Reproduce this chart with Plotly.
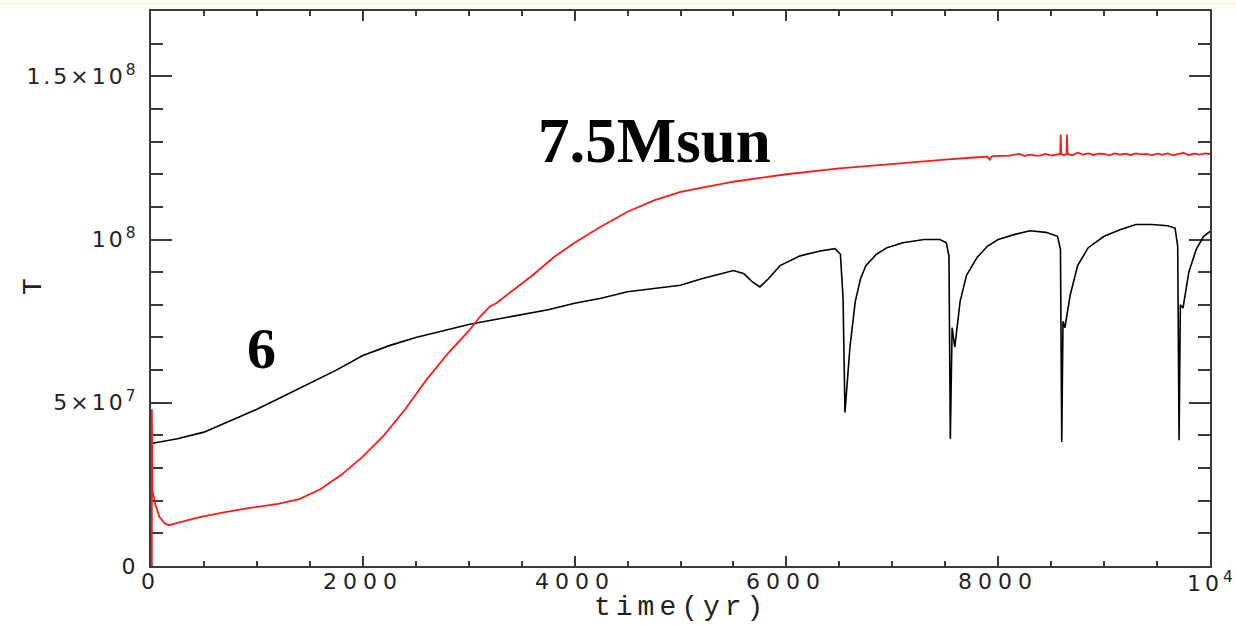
import plotly.graph_objects as go

# ---- data ----
t_black = [0, 250, 500, 750, 1000, 1250, 1500, 1750, 2000, 2250, 2500, 2750, 3000, 3250, 3500,
           3750, 4000, 4250, 4500, 4750, 5000, 5200, 5400, 5500, 5600, 5680, 5750, 5830, 5940,
           6130, 6320, 6460, 6510, 6535, 6553, 6600, 6650, 6700, 6750, 6850, 6950, 7100, 7300,
           7450, 7510, 7535, 7548, 7565, 7590, 7640, 7700, 7800, 7900, 8000, 8150, 8300, 8450,
           8560, 8588, 8600, 8612, 8630, 8680, 8750, 8850, 9000, 9150, 9300, 9450, 9600, 9670,
           9695, 9708, 9720, 9745, 9800, 9870, 9940, 10000]
T_black = [3.75e7, 3.9e7, 4.1e7, 4.45e7, 4.8e7, 5.2e7, 5.6e7, 6.0e7, 6.45e7, 6.75e7, 7.0e7, 7.2e7,
           7.4e7, 7.55e7, 7.7e7, 7.85e7, 8.05e7, 8.2e7, 8.4e7, 8.5e7, 8.6e7, 8.8e7, 8.98e7, 9.05e7,
           8.95e7, 8.7e7, 8.55e7, 8.8e7, 9.2e7, 9.5e7, 9.65e7, 9.72e7, 9.55e7, 8.2e7, 4.7e7, 6.7e7,
           8.1e7, 8.8e7, 9.2e7, 9.55e7, 9.75e7, 9.9e7, 1.0e8, 1.0e8, 9.9e7, 9.5e7, 3.9e7, 7.3e7,
           6.7e7, 8.1e7, 8.9e7, 9.45e7, 9.8e7, 1.0e8, 1.015e8, 1.027e8, 1.022e8, 1.01e8, 9.7e7,
           3.8e7, 7.5e7, 7.3e7, 8.3e7, 9.2e7, 9.75e7, 1.01e8, 1.03e8, 1.046e8, 1.046e8, 1.042e8,
           1.035e8, 9.8e7, 3.85e7, 8.0e7, 7.9e7, 9.0e7, 9.7e7, 1.01e8, 1.025e8]

t_red = [8, 8, 10, 14, 40, 80, 130, 170, 250, 460, 700, 935, 1200, 1400, 1600, 1800, 2000, 2200,
         2400, 2600, 2800, 3000, 3110, 3200, 3260, 3400, 3600, 3800, 4000, 4250, 4500, 4750, 5000,
         5500, 6000, 6500, 7000, 7500, 7800, 7900, 7920, 7940, 8000, 8100, 8200, 8250, 8300, 8350,
         8400, 8450, 8500, 8550, 8585, 8590, 8595, 8620, 8645, 8650, 8655, 8700, 8750, 8800, 8850,
         8900, 8950, 9000, 9050, 9100, 9150, 9200, 9250, 9300, 9350, 9400, 9450, 9500, 9550, 9600,
         9650, 9700, 9750, 9800, 9850, 9900, 9950, 10000]
T_red = [0, 4.8e7, 2.6e7, 2.3e7, 1.9e7, 1.5e7, 1.3e7, 1.25e7, 1.32e7, 1.5e7, 1.65e7, 1.78e7,
         1.9e7, 2.05e7, 2.35e7, 2.8e7, 3.35e7, 4.0e7, 4.8e7, 5.7e7, 6.5e7, 7.2e7, 7.65e7, 7.95e7,
         8.05e7, 8.4e7, 8.9e7, 9.45e7, 9.9e7, 1.04e8, 1.085e8, 1.12e8, 1.146e8, 1.177e8, 1.2e8,
         1.218e8, 1.232e8, 1.245e8, 1.252e8, 1.254e8, 1.245e8, 1.255e8, 1.256e8, 1.257e8, 1.262e8,
         1.256e8, 1.26e8, 1.257e8, 1.258e8, 1.262e8, 1.257e8, 1.26e8, 1.262e8, 1.322e8, 1.262e8,
         1.258e8, 1.262e8, 1.322e8, 1.262e8, 1.258e8, 1.266e8, 1.26e8, 1.264e8, 1.259e8, 1.263e8,
         1.262e8, 1.258e8, 1.264e8, 1.26e8, 1.263e8, 1.259e8, 1.264e8, 1.261e8, 1.262e8, 1.258e8,
         1.263e8, 1.26e8, 1.264e8, 1.258e8, 1.262e8, 1.265e8, 1.259e8, 1.263e8, 1.26e8, 1.264e8,
         1.262e8]

x_tickvals = [0, 2000, 4000, 6000, 8000, 10000]
x_ticktext = ["0", "2000", "4000", "6000", "8000", "10<sup>4</sup>"]
y_tickvals = [0, 5e7, 1e8, 1.5e8]
y_ticktext = ["0", "5×10<sup>7</sup>", "10<sup>8</sup>", "1.5×10<sup>8</sup>"]
x_minor = [500 * i for i in range(21)]
y_minor = [1e7 * i for i in range(18)]

AX = "#3a3a3a"
TXT = "#222222"
SPY = '<span style="letter-spacing:3px">{}</span>'
tickfont = dict(family="DejaVu Sans", size=22, color=TXT)


def spaced_x(s):
    # widen the digits like the reference's plotting font; keep the superscript tight
    if "<sup>" in s:
        base, rest = s.split("<sup>", 1)
        return '<span style="letter-spacing:4px">' + base + "</span><sup>" + rest
    return '<span style="letter-spacing:6px">' + s + "</span>"


fig = go.Figure()
fig.add_trace(go.Scatter(x=t_black, y=T_black, mode="lines",
                         line=dict(color="black", width=1.6), showlegend=False))
fig.add_trace(go.Scatter(x=t_red, y=T_red, mode="lines",
                         line=dict(color="#ff1a1a", width=1.8), showlegend=False))

fig.update_layout(
    width=1236, height=625,
    margin=dict(l=151, r=26, t=9, b=59),
    paper_bgcolor="white", plot_bgcolor="white",
    showlegend=False,
    xaxis=dict(range=[0, 10000], showgrid=False, zeroline=False,
               showline=True, linecolor=AX, linewidth=2, mirror="ticks",
               ticks="inside", ticklen=10, tickwidth=1.5, tickcolor=AX,
               tickmode="array", tickvals=x_tickvals, showticklabels=False,
               layer="below traces",
               minor=dict(ticks="inside", ticklen=5, tickwidth=1.5, tickcolor=AX,
                          tickmode="array", tickvals=x_minor, showgrid=False)),
    yaxis=dict(range=[0, 1.7e8], showgrid=False, zeroline=False,
               showline=True, linecolor=AX, linewidth=2, mirror="ticks",
               ticks="inside", ticklen=21, tickwidth=1.5, tickcolor=AX,
               tickmode="array", tickvals=y_tickvals,
               ticktext=[SPY.format(s) for s in y_ticktext],
               tickfont=tickfont, ticklabelstandoff=6, layer="below traces",
               minor=dict(ticks="inside", ticklen=12, tickwidth=1.5, tickcolor=AX,
                          tickmode="array", tickvals=y_minor, showgrid=False)),
)

# x tick labels, placed just under the axis
for v, s in zip(x_tickvals, x_ticktext):
    fig.add_annotation(x=v, y=-16 / 557, xref="x", yref="paper", text=spaced_x(s),
                       showarrow=False, font=tickfont, xanchor="center", yanchor="middle")

# thin pale-yellow strip along the top edge
fig.add_shape(type="rect", xref="paper", yref="paper",
              x0=-151 / 1059, x1=1 + 26 / 1059, y0=1 + 6 / 557, y1=1 + 9 / 557,
              fillcolor="#fffbd6", line=dict(width=0), layer="below")

fig.add_annotation(x=0.5, y=-42 / 557, xref="paper", yref="paper",
                   text='<span style="letter-spacing:5px">time(yr)</span>',
                   showarrow=False, font=dict(family="Liberation Mono", size=28, color=TXT),
                   xanchor="center", yanchor="middle")
fig.add_annotation(x=-118 / 1059, y=280 / 557, xref="paper", yref="paper", text="T",
                   textangle=-90, showarrow=False,
                   font=dict(family="Liberation Mono", size=28, color=TXT),
                   xanchor="center", yanchor="middle")
fig.add_annotation(x=4759, y=1.302e8, text="<b>7.5Msun</b>", showarrow=False,
                   font=dict(family="Liberation Serif", size=63, color="black"),
                   xanchor="center", yanchor="middle")
fig.add_annotation(x=1048, y=6.65e7, text="<b>6</b>", showarrow=False,
                   font=dict(family="Liberation Serif", size=58, color="black"),
                   xanchor="center", yanchor="middle")

fig.write_html("out.html")
